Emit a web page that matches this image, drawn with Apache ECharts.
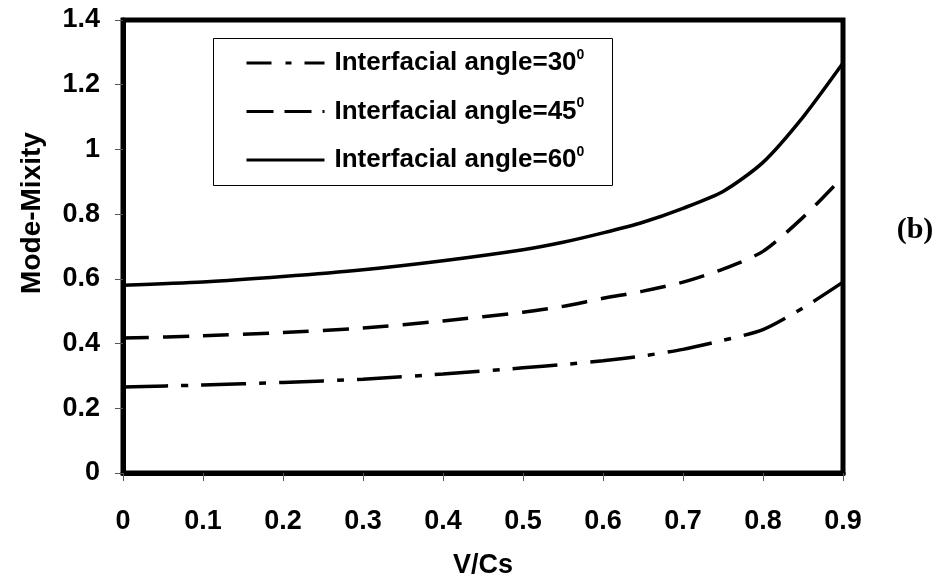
<!DOCTYPE html>
<html>
<head>
<meta charset="utf-8">
<script src="https://cdn.jsdelivr.net/npm/echarts@6/dist/echarts.min.js"></script>
<style>
  html, body { margin: 0; padding: 0; background: #fff; }
  #chart { width: 940px; height: 579px; }
</style>
</head>
<body>
<div id="chart"></div>
<script>
// V/Cs sample positions
const vcs = [0, 0.1, 0.2, 0.3, 0.4, 0.5, 0.55, 0.6, 0.65, 0.7, 0.75, 0.8, 0.85, 0.9];

// Mode-mixity for each interfacial angle
const angle30 = [0.266, 0.272, 0.280, 0.290, 0.306, 0.325, 0.335, 0.347, 0.362, 0.382, 0.410, 0.443, 0.510, 0.590];
const angle45 = [0.417, 0.424, 0.434, 0.448, 0.470, 0.497, 0.515, 0.540, 0.562, 0.590, 0.630, 0.685, 0.790, 0.915];
const angle60 = [0.580, 0.590, 0.607, 0.628, 0.656, 0.690, 0.713, 0.742, 0.775, 0.818, 0.870, 0.960, 1.100, 1.267];

const seriesNames = ['Interfacial angle=30', 'Interfacial angle=45', 'Interfacial angle=60'];
const xTickLabels = ['0', '0.1', '0.2', '0.3', '0.4', '0.5', '0.6', '0.7', '0.8', '0.9'];
const yTickLabels = ['0', '0.2', '0.4', '0.6', '0.8', '1', '1.2', '1.4'];

const FONT = '"Liberation Sans", Arial, Helvetica, sans-serif';

function pairs(ys) { return vcs.map((x, i) => [x, ys[i]]); }

const chart = echarts.init(document.getElementById('chart'), null, { renderer: 'canvas' });

const lineW = 3.5;
const dashDot = [45, 13, 7, 13];
const dashed = [26, 14];
const hiddenSymbol = { color: 'rgba(0,0,0,0)', borderColor: 'rgba(0,0,0,0)', borderWidth: 0, opacity: 0 };

chart.setOption({
  animation: false,
  backgroundColor: '#fff',
  grid: {
    left: 123, right: 97, top: 20, bottom: 106,
    outerBoundsMode: 'none', containLabel: false,
    show: true, borderColor: '#000', borderWidth: 5, backgroundColor: 'transparent'
  },
  xAxis: {
    type: 'value', min: 0, max: 0.9, interval: 0.1,
    name: 'V/Cs', nameLocation: 'middle', nameGap: 79,
    nameTextStyle: { fontFamily: FONT, fontWeight: 'bold', fontSize: 27, color: '#000' },
    axisLine: { show: true, onZero: false, lineStyle: { color: '#000', width: 5 } },
    axisTick: { show: true, inside: false, length: 8, lineStyle: { color: '#555', width: 1 } },
    splitLine: { show: false },
    axisLabel: {
      margin: 35, color: '#000', fontFamily: FONT, fontWeight: 'bold', fontSize: 27,
      formatter: v => xTickLabels[Math.round(v * 10)]
    }
  },
  yAxis: {
    type: 'value', min: 0, max: 1.4, interval: 0.2,
    axisLine: { show: true, onZero: false, lineStyle: { color: '#000', width: 5 } },
    axisTick: { show: true, inside: false, length: 8, lineStyle: { color: '#555', width: 1 } },
    splitLine: { show: false },
    axisLabel: {
      margin: 23, color: '#000', fontFamily: FONT, fontWeight: 'bold', fontSize: 27,
      formatter: v => yTickLabels[Math.round(v * 5)]
    }
  },
  legend: {
    orient: 'vertical', left: 245, top: 48, padding: 0,
    itemWidth: 78, itemHeight: 30, itemGap: 20.5,
    itemStyle: hiddenSymbol,
    lineStyle: { width: 3, color: '#000' },
    data: [
      { name: seriesNames[0], itemStyle: hiddenSymbol, lineStyle: { type: [25, 14, 6, 13], width: 3, color: '#000' } },
      { name: seriesNames[1], itemStyle: hiddenSymbol, lineStyle: { type: [27, 11], width: 3, color: '#000' } },
      { name: seriesNames[2], itemStyle: hiddenSymbol, lineStyle: { type: 'solid', width: 3, color: '#000' } }
    ],
    formatter: name => '{main|' + name + '}{sup|0}',
    textStyle: {
      color: '#000', fontFamily: FONT, fontWeight: 'bold', fontSize: 26,
      padding: [0, 0, 0, 5],
      rich: {
        main: { fontFamily: FONT, fontWeight: 'bold', fontSize: 26, color: '#000', lineHeight: 30, verticalAlign: 'middle' },
        sup: { fontFamily: FONT, fontWeight: 'bold', fontSize: 14, color: '#000', lineHeight: 16, verticalAlign: 'top' }
      }
    }
  },
  graphic: [
    {
      type: 'rect', shape: { x: 213.5, y: 38.5, width: 399, height: 147 },
      style: { fill: 'none', stroke: '#000', lineWidth: 1 }, z: 1, silent: true
    },
    {
      type: 'text', x: 32, y: 213, rotation: Math.PI / 2,
      style: { text: 'Mode-Mixity', font: 'bold 28px ' + FONT, fill: '#000', align: 'center', verticalAlign: 'middle' }
    },
    {
      type: 'text', x: 915, y: 230,
      style: { text: '(b)', font: 'bold 30px "Liberation Serif", "Times New Roman", serif', fill: '#000', align: 'center', verticalAlign: 'middle' }
    }
  ],
  series: [
    {
      name: seriesNames[0], type: 'line', data: pairs(angle30), smooth: 0.25,
      symbol: 'none', lineStyle: { color: '#000', width: lineW, type: dashDot }, itemStyle: { color: '#000' }
    },
    {
      name: seriesNames[1], type: 'line', data: pairs(angle45), smooth: 0.25,
      symbol: 'none', lineStyle: { color: '#000', width: lineW, type: dashed }, itemStyle: { color: '#000' }
    },
    {
      name: seriesNames[2], type: 'line', data: pairs(angle60), smooth: 0.25,
      symbol: 'none', lineStyle: { color: '#000', width: lineW, type: 'solid' }, itemStyle: { color: '#000' }
    }
  ]
});
</script>
</body>
</html>
